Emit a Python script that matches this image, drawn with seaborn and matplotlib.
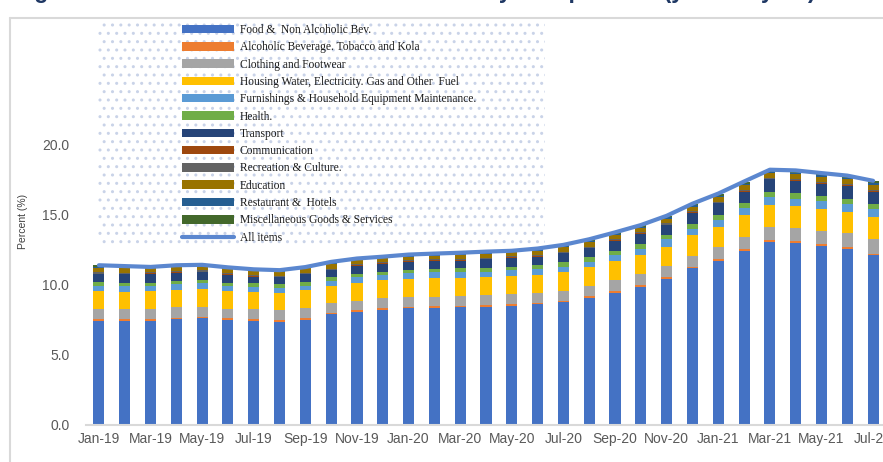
import numpy as np
import matplotlib
matplotlib.use("Agg")
import matplotlib.pyplot as plt
from matplotlib.patches import Rectangle, Patch
from matplotlib.lines import Line2D
import seaborn as sns

# ---- data (contribution to headline inflation, percentage points) ----
months = ["Jan-19", "Feb-19", "Mar-19", "Apr-19", "May-19", "Jun-19", "Jul-19", "Aug-19",
          "Sep-19", "Oct-19", "Nov-19", "Dec-19", "Jan-20", "Feb-20", "Mar-20", "Apr-20",
          "May-20", "Jun-20", "Jul-20", "Aug-20", "Sep-20", "Oct-20", "Nov-20", "Dec-20",
          "Jan-21", "Feb-21", "Mar-21", "Apr-21", "May-21", "Jun-21", "Jul-21"]

food = [7.42, 7.42, 7.42, 7.52, 7.60, 7.47, 7.43, 7.35, 7.47, 7.88, 8.07, 8.22, 8.30, 8.35, 8.37, 8.42,
        8.50, 8.61, 8.73, 9.07, 9.42, 9.84, 10.39, 11.15, 11.69, 12.40, 13.05, 12.98, 12.74, 12.55, 12.08]
alcohol = [0.10, 0.10, 0.10, 0.12, 0.12, 0.12, 0.12, 0.10, 0.14, 0.10, 0.10, 0.10, 0.10, 0.12, 0.10, 0.10,
           0.10, 0.10, 0.10, 0.10, 0.14, 0.12, 0.12, 0.10, 0.12, 0.12, 0.12, 0.12, 0.12, 0.12, 0.12]
clothing = [0.73, 0.71, 0.71, 0.74, 0.71, 0.66, 0.68, 0.73, 0.69, 0.68, 0.68, 0.69, 0.73, 0.66, 0.73, 0.73,
            0.71, 0.66, 0.71, 0.71, 0.76, 0.78, 0.81, 0.78, 0.84, 0.88, 0.95, 0.90, 0.95, 0.97, 1.02]
housing = [1.28, 1.26, 1.30, 1.23, 1.23, 1.28, 1.26, 1.19, 1.30, 1.25, 1.28, 1.30, 1.26, 1.35, 1.28, 1.31,
           1.30, 1.30, 1.37, 1.33, 1.37, 1.35, 1.37, 1.49, 1.47, 1.54, 1.55, 1.61, 1.57, 1.54, 1.61]
furnishings = [0.38, 0.40, 0.36, 0.40, 0.43, 0.36, 0.36, 0.40, 0.31, 0.36, 0.43, 0.36, 0.41, 0.38, 0.38, 0.35,
               0.43, 0.40, 0.36, 0.40, 0.41, 0.43, 0.53, 0.43, 0.47, 0.47, 0.54, 0.47, 0.57, 0.55, 0.52]
health = [0.24, 0.24, 0.24, 0.26, 0.24, 0.24, 0.23, 0.24, 0.24, 0.26, 0.19, 0.24, 0.23, 0.24, 0.28, 0.29,
          0.24, 0.31, 0.31, 0.33, 0.30, 0.36, 0.28, 0.36, 0.36, 0.36, 0.38, 0.40, 0.38, 0.36, 0.38]
transport = [0.59, 0.59, 0.64, 0.57, 0.55, 0.55, 0.48, 0.50, 0.57, 0.50, 0.59, 0.57, 0.59, 0.57, 0.55, 0.61,
             0.64, 0.59, 0.64, 0.66, 0.72, 0.71, 0.73, 0.81, 0.83, 0.83, 0.91, 0.90, 0.83, 0.93, 0.88]
communication = [0.04, 0.04, 0.03, 0.04, 0.04, 0.04, 0.03, 0.03, 0.04, 0.03, 0.04, 0.04, 0.04, 0.04, 0.04, 0.03,
                 0.03, 0.04, 0.04, 0.03, 0.03, 0.04, 0.04, 0.04, 0.04, 0.04, 0.04, 0.04, 0.04, 0.04, 0.04]
recreation = [0.08, 0.08, 0.07, 0.08, 0.08, 0.08, 0.07, 0.06, 0.08, 0.07, 0.08, 0.08, 0.08, 0.08, 0.08, 0.07,
              0.07, 0.08, 0.08, 0.07, 0.07, 0.08, 0.08, 0.08, 0.08, 0.08, 0.07, 0.08, 0.08, 0.08, 0.08]
education = [0.33, 0.31, 0.28, 0.26, 0.28, 0.28, 0.30, 0.31, 0.31, 0.31, 0.28, 0.28, 0.24, 0.24, 0.28, 0.26,
             0.28, 0.31, 0.31, 0.31, 0.30, 0.28, 0.33, 0.31, 0.31, 0.36, 0.31, 0.36, 0.36, 0.36, 0.36]
restaurant = [0.08, 0.07, 0.05, 0.07, 0.05, 0.06, 0.05, 0.05, 0.04, 0.07, 0.05, 0.04, 0.07, 0.08, 0.08, 0.08,
              0.05, 0.07, 0.08, 0.09, 0.08, 0.10, 0.09, 0.08, 0.11, 0.10, 0.10, 0.11, 0.12, 0.10, 0.12]
misc = [0.10, 0.09, 0.05, 0.08, 0.07, 0.08, 0.07, 0.06, 0.05, 0.10, 0.06, 0.06, 0.08, 0.09, 0.09, 0.09,
        0.05, 0.09, 0.09, 0.12, 0.11, 0.14, 0.12, 0.12, 0.15, 0.15, 0.15, 0.15, 0.17, 0.15, 0.17]
all_items = [11.37, 11.31, 11.25, 11.37, 11.40, 11.22, 11.08, 11.02, 11.24, 11.61, 11.85, 11.98,
             12.13, 12.20, 12.26, 12.34, 12.40, 12.56, 12.82, 13.22, 13.71, 14.23, 14.89, 15.75,
             16.47, 17.33, 18.17, 18.12, 17.93, 17.75, 17.38]

labels = ["Food &  Non Alcoholic Bev.", "Alcoholic Beverage. Tobacco and Kola",
          "Clothing and Footwear", "Housing Water, Electricity. Gas and Other  Fuel",
          "Furnishings & Household Equipment Maintenance.", "Health.", "Transport",
          "Communication", "Recreation & Culture.", "Education", "Restaurant &  Hotels",
          "Miscellaneous Goods & Services"]
series = [food, alcohol, clothing, housing, furnishings, health, transport,
          communication, recreation, education, restaurant, misc]
colors = ["#4472C4", "#ED7D31", "#A5A5A5", "#FFC000", "#5B9BD5", "#70AD47", "#264478",
          "#9E480E", "#636363", "#997300", "#255E91", "#43682B"]
line_color = "#5B87CF"

sns.set_theme(style="white")
plt.rcParams["font.family"] = ["Liberation Sans", "DejaVu Sans"]

W, H = 883, 462
fig = plt.figure(figsize=(W / 100, H / 100), dpi=100)
ax = fig.add_axes([86 / W, 37 / H, 800 / W, 281 / H])

# dotted legend background, behind everything
ax.add_patch(Rectangle((98 / W, 1 - 245 / H), 447 / W, 225 / H, transform=fig.transFigure,
                       facecolor="none", edgecolor="#C9D3E8", hatch="..", linewidth=0,
                       zorder=0, clip_on=False))

# stacked bars: draw cumulative totals from the top layer down
x = np.arange(len(months))
cum = np.cumsum(np.array(series), axis=0)
for k in range(len(series) - 1, -1, -1):
    sns.barplot(x=x, y=cum[k], color=colors[k], saturation=1, width=0.43,
                linewidth=0, ax=ax, zorder=2)

ax.plot(x, all_items, color=line_color, linewidth=3, zorder=4, solid_capstyle="round")

ax.set_xlim(-0.5, 30.5)
ax.set_ylim(0, 20)
ax.set_yticks([0, 5, 10, 15, 20])
ax.set_yticklabels(["0.0", "5.0", "10.0", "15.0", "20.0"])
ax.set_xticks(x[::2])
ax.set_xticklabels(months[::2])
ax.tick_params(axis="both", length=0, labelsize=10, colors="#595959")
ax.tick_params(axis="y", pad=12)
ax.tick_params(axis="x", pad=5)
ax.set_xlabel("")
ax.set_ylabel("")
for s in ["top", "right", "left"]:
    ax.spines[s].set_visible(False)
ax.spines["bottom"].set_color("#D9D9D9")
ax.spines["bottom"].set_linewidth(1.5)
ax.patch.set_alpha(0)

fig.text(23 / W, 1 - 221 / H, "Percent (%)", rotation=90, ha="center", va="center",
         fontsize=7.5, color="#404040")

# outer chart frame (left and top edges)
fig.add_artist(Line2D([10 / W, 10 / W], [0, 1 - 18 / H], color="#D9D9D9", linewidth=1.5))
fig.add_artist(Line2D([10 / W, 1], [1 - 18 / H, 1 - 18 / H], color="#D9D9D9", linewidth=1.5))

# title, cut off by the top of the picture (only descenders show)
fig.text(14 / W, 1 + 2 / H, "Figure 3: Contribution to Headline Inflation by Components (year-on-year)",
         fontsize=16.5, fontweight="bold", color="#1F3864", va="baseline")

handles = [Patch(facecolor=c, edgecolor="none") for c in colors]
handles.append(Line2D([0], [0], color=line_color, linewidth=3))
fig.legend(handles, labels + ["All items"], loc="upper left",
           bbox_to_anchor=(182 / W, 1 - 24 / H), bbox_transform=fig.transFigure,
           frameon=False, prop={"family": "Liberation Serif", "size": 8.3},
           handlelength=4.5, handleheight=0.75, labelspacing=0.46, handletextpad=0.5,
           borderpad=0, borderaxespad=0, labelcolor="#1a1a1a")

fig.savefig("out.png", dpi=100)
